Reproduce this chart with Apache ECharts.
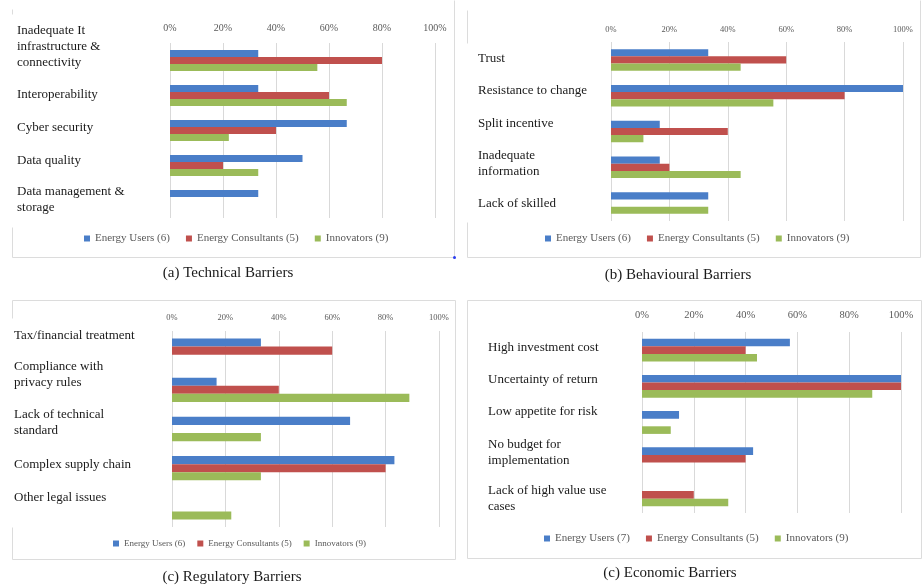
<!DOCTYPE html>
<html>
<head>
<meta charset="utf-8">
<script src="https://cdn.jsdelivr.net/npm/echarts@6/dist/echarts.min.js"></script>
<style>
  html, body { margin: 0; padding: 0; background: #fff; }
  #main { width: 922px; height: 588px; }
</style>
</head>
<body>
<div id="main"></div>
<script>
var SERIF = '"Liberation Serif", "Times New Roman", serif';
var color = ['#4a7ec8', '#c0504d', '#9bbb59'];

// (a) Technical Barriers
var techCats = ['Inadequate It\ninfrastructure &\nconnectivity', 'Interoperability', 'Cyber security', 'Data quality', 'Data management &\nstorage'];
var techUsers = [33.3, 33.3, 66.7, 50, 33.3];
var techConsultants = [80, 60, 40, 20, 0];
var techInnovators = [55.6, 66.7, 22.2, 33.3, 0];

// (b) Behavioural Barriers
var behCats = ['Trust', 'Resistance to change', 'Split incentive', 'Inadequate\ninformation', 'Lack of skilled'];
var behUsers = [33.3, 100, 16.7, 16.7, 33.3];
var behConsultants = [60, 80, 40, 20, 0];
var behInnovators = [44.4, 55.6, 11.1, 44.4, 33.3];

// (c) Regulatory Barriers
var regCats = ['Tax/financial treatment', 'Compliance with\nprivacy rules', 'Lack of technical\nstandard', 'Complex supply chain', 'Other legal issues'];
var regUsers = [33.3, 16.7, 66.7, 83.3, 0];
var regConsultants = [60, 40, 0, 80, 0];
var regInnovators = [0, 88.9, 33.3, 33.3, 22.2];

// (c) Economic Barriers
var ecoCats = ['High investment cost', 'Uncertainty of return', 'Low appetite for risk', 'No budget for\nimplementation', 'Lack of high value use\ncases'];
var ecoUsers = [57.1, 100, 14.3, 42.9, 0];
var ecoConsultants = [40, 100, 0, 40, 20];
var ecoInnovators = [44.4, 88.9, 11.1, 0, 33.3];

var namesA = ['Energy Users (6)', 'Energy Consultants (5)', 'Innovators (9)'];
var namesD = ['Energy Users (7)', 'Energy Consultants (5)', 'Innovators (9)'];

// how far each category label sits above its bar group (px), as in the scan
var liftA = [14, 1, 3, 5, 1];
var liftB = [1, 5, 8, 4, 0];
var liftC = [15, 15, 6, 4, 10];
var liftD = [3, 7, 11, 6, -4];

var panels = [
    { cats: techCats, vals: [techUsers, techConsultants, techInnovators], names: namesA, lift: liftA,
      grid: { left: 170, top: 43, width: 265, height: 175 }, labelMargin: 153,
      tickSize: 10, tickMargin: 10, gap: '40%',
      legend: { left: 84, top: 233, fontSize: 11, itemGap: 16 },
      caption: { text: '(a) Technical Barriers', x: 228, y: 273 } },
    { cats: behCats, vals: [behUsers, behConsultants, behInnovators], names: namesA, lift: liftB,
      grid: { left: 611, top: 42, width: 292, height: 179 }, labelMargin: 133,
      tickSize: 8.5, tickMargin: 8, gap: '40%',
      legend: { left: 545, top: 233, fontSize: 11, itemGap: 16 },
      caption: { text: '(b) Behavioural Barriers', x: 678, y: 275 } },
    { cats: regCats, vals: [regUsers, regConsultants, regInnovators], names: namesA, lift: liftC,
      grid: { left: 172, top: 331, width: 267, height: 196 }, labelMargin: 158,
      tickSize: 8.5, tickMargin: 9, gap: '38%',
      legend: { left: 113, top: 539, fontSize: 9, itemGap: 12 },
      caption: { text: '(c) Regulatory Barriers', x: 232, y: 577 } },
    { cats: ecoCats, vals: [ecoUsers, ecoConsultants, ecoInnovators], names: namesD, lift: liftD,
      grid: { left: 642, top: 332, width: 259, height: 181 }, labelMargin: 154,
      tickSize: 10.5, tickMargin: 11, gap: '37%',
      legend: { left: 544, top: 533, fontSize: 11, itemGap: 16 },
      caption: { text: '(c) Economic Barriers', x: 670, y: 573 } }
];

var LINE_H = 16;

var option = {
    animation: false,
    backgroundColor: '#fff',
    grid: [], xAxis: [], yAxis: [], series: [], legend: [], graphic: []
};

panels.forEach(function (p, i) {
    var g = p.grid;
    g.outerBoundsMode = 'none';
    g.containLabel = false;
    option.grid.push(g);
    option.xAxis.push({
        type: 'value', gridIndex: i, position: 'top',
        min: 0, max: 100, interval: 20,
        axisLine: { show: false }, axisTick: { show: false },
        axisLabel: { formatter: '{value}%', fontFamily: SERIF, fontSize: p.tickSize, color: '#595959', margin: p.tickMargin },
        splitLine: { lineStyle: { color: '#d9d9d9', width: 1 } }
    });
    var catData = p.cats.map(function (c, k) {
        var lines = c.split('\n').length;
        return {
            value: c,
            textStyle: {
                align: 'left',
                verticalAlign: 'bottom',
                padding: [0, 0, p.lift[k] - lines * LINE_H / 2, 0]
            }
        };
    });
    option.yAxis.push({
        type: 'category', gridIndex: i, inverse: true, data: catData,
        axisLine: { show: false }, axisTick: { show: false },
        axisLabel: {
            interval: 0, hideOverlap: false,
            align: 'left', margin: p.labelMargin, fontFamily: SERIF, fontSize: 13,
            lineHeight: LINE_H, color: '#1a1a1a'
        }
    });
    p.vals.forEach(function (v, j) {
        option.series.push({
            name: p.names[j], type: 'bar', xAxisIndex: i, yAxisIndex: i,
            data: v, barGap: 0, barCategoryGap: p.gap,
            itemStyle: { color: color[j] }
        });
    });
    option.legend.push({
        data: p.names, left: p.legend.left, top: p.legend.top, padding: 0,
        icon: 'rect', itemWidth: 6, itemHeight: 6, itemGap: p.legend.itemGap,
        selectedMode: false,
        textStyle: { fontFamily: SERIF, fontSize: p.legend.fontSize, color: '#595959' }
    });
    option.graphic.push({
        type: 'text', silent: true, x: p.caption.x, y: p.caption.y,
        style: { text: p.caption.text, fill: '#1a1a1a', font: '15px ' + SERIF, textAlign: 'center', textVerticalAlign: 'middle' }
    });
});

// panel frames (partly hidden in the original scan)
var frameLines = [
    [12, 9, 12, 14], [12, 227, 12, 257], [12, 257, 454, 257], [454, 0, 454, 257],
    [467, 10, 467, 43], [467, 222, 467, 257], [467, 257, 920, 257], [920, 0, 920, 257],
    [12, 300, 455, 300], [12, 300, 12, 318], [12, 527, 12, 559], [12, 559, 455, 559], [455, 300, 455, 559],
    [467, 300, 921, 300], [467, 300, 467, 558], [467, 558, 921, 558], [921, 300, 921, 558]
];
frameLines.forEach(function (l) {
    option.graphic.push({
        type: 'line', silent: true, z: -1,
        shape: { x1: l[0] + 0.5, y1: l[1] + 0.5, x2: l[2] + 0.5, y2: l[3] + 0.5 },
        style: { stroke: '#dcdcdc', lineWidth: 1 }
    });
});
option.graphic.push({ type: 'circle', silent: true, shape: { cx: 454.5, cy: 257.5, r: 1.5 }, style: { fill: '#2a3cf0' } });

var chart = echarts.init(document.getElementById('main'), null, { renderer: 'canvas' });
chart.setOption(option);
</script>
</body>
</html>
